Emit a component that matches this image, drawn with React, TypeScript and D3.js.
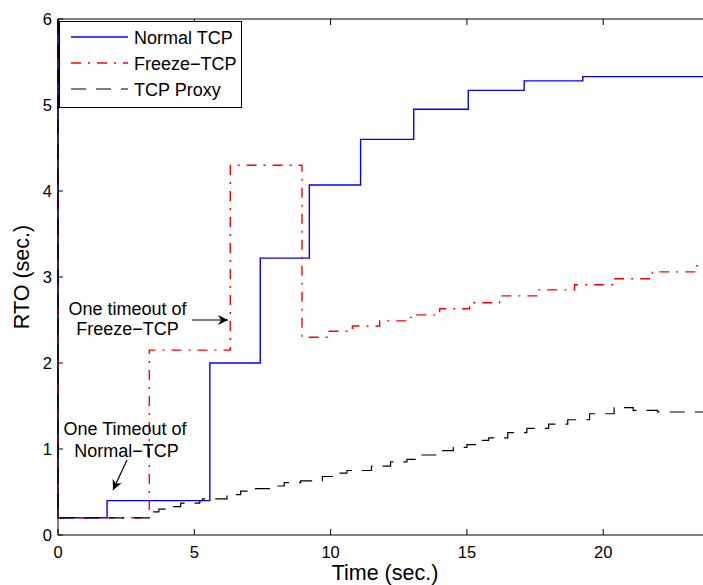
import React from "react";
import * as d3 from "d3";

const xTicks = [0, 5, 10, 15, 20];
const yTicks = [0, 1, 2, 3, 4, 5, 6];

const normalTime = [0, 0, 1.8, 5.57, 7.42, 9.22, 11.1, 13.05, 15.05, 17.1, 19.25, 25];
const normalRto = [6, 0.2, 0.4, 2.0, 3.22, 4.07, 4.6, 4.95, 5.17, 5.28, 5.33, 5.33];

const freezeTime = [0, 0, 3.35, 6.32, 8.95, 9.9, 10.8, 11.8, 12.8, 13.1, 14.0, 15.1, 16.2, 17.6, 18.95, 20.4, 21.8, 23.4, 25];
const freezeRto = [6, 0.2, 2.15, 4.3, 2.3, 2.37, 2.43, 2.49, 2.53, 2.56, 2.63, 2.7, 2.78, 2.85, 2.91, 2.98, 3.06, 3.13, 3.13];

const proxyTime = [0, 0, 3.35, 3.7, 4.1, 4.5, 5.2, 5.3, 6.2, 6.7, 7.15, 7.8, 8.3, 8.9, 9.7, 10.2, 10.6, 11.5, 12.2, 12.8, 13.3, 13.9, 14.5, 15.0, 15.5, 15.8, 16.5, 17.2, 18.0, 18.7, 19.5, 20.4, 21.1, 22.0, 25];
const proxyRto = [6, 0.2, 0.27, 0.3, 0.33, 0.37, 0.4, 0.42, 0.47, 0.51, 0.54, 0.57, 0.61, 0.63, 0.68, 0.72, 0.75, 0.8, 0.85, 0.88, 0.93, 0.98, 1.02, 1.05, 1.1, 1.13, 1.19, 1.24, 1.29, 1.34, 1.41, 1.48, 1.45, 1.43, 1.43];

const seriesNames = ["Normal TCP", "Freeze\u2212TCP", "TCP Proxy"];

const FONT = "'Liberation Sans', Arial, Helvetica, sans-serif";

export default function App() {
  const W = 703, H = 585;
  const left = 58, right = 739.5, top = 19, bottom = 535;
  const x = d3.scaleLinear().domain([0, 25]).range([left, right]);
  const y = d3.scaleLinear().domain([0, 6]).range([bottom, top]);

  const mk = (t: number[], v: number[]) =>
    d3.line<number>().x((_, i) => x(t[i])).y((d) => y(d)).curve(d3.curveStepAfter)(v) || "";

  const series = [
    { d: mk(normalTime, normalRto), color: "#0000ff", dash: "", w: 1.4 },
    { d: mk(freezeTime, freezeRto), color: "#ff0000", dash: "10,7,2,7", w: 1.4 },
    { d: mk(proxyTime, proxyRto), color: "#000000", dash: "15,10", w: 1.2 },
  ];

  const legendY = [37, 63, 89];

  return (
    <svg width={W} height={H} style={{ position: "fixed", left: 0, top: 0, background: "#fff" }} fontFamily={FONT}>
      <defs>
        <clipPath id="plotClip">
          <rect x={left - 1} y={top - 1} width={right - left + 2} height={bottom - top + 2} />
        </clipPath>
        <marker id="arrowHead" viewBox="0 0 10 10" refX="10" refY="5" markerWidth="14" markerHeight="10" markerUnits="userSpaceOnUse" orient="auto">
          <path d="M0,0 L10,5 L0,10 L3,5 Z" fill="#000" />
        </marker>
      </defs>
      <rect x={0} y={0} width={W} height={H} fill="#fff" />
      <g clipPath="url(#plotClip)">
        {series.map((s, i) => (
          <path key={i} d={s.d} fill="none" stroke={s.color} strokeWidth={s.w} strokeDasharray={s.dash || undefined} />
        ))}
      </g>
      <line x1={left} x2={right} y1={bottom} y2={bottom} stroke="#000" strokeWidth={1} />
      <line x1={left} x2={right} y1={top} y2={top} stroke="#000" strokeWidth={1} />
      <line x1={left} x2={left} y1={top} y2={bottom} stroke="#000" strokeWidth={1} />
      {xTicks.map((t) => (
        <g key={"x" + t}>
          <line x1={x(t)} x2={x(t)} y1={bottom} y2={bottom - 6} stroke="#000" />
          <line x1={x(t)} x2={x(t)} y1={top} y2={top + 6} stroke="#000" />
          <text x={x(t)} y={558} fontSize={16.5} textAnchor="middle" fill="#000">{t}</text>
        </g>
      ))}
      {yTicks.map((t) => (
        <g key={"y" + t}>
          <line x1={left} x2={left + 5} y1={y(t)} y2={y(t)} stroke="#000" />
          <text x={52} y={y(t) + 6} fontSize={16.5} textAnchor="end" fill="#000">{t}</text>
        </g>
      ))}
      <text x={385} y={580} fontSize={21.5} textAnchor="middle" fill="#000">Time (sec.)</text>
      <text transform={`translate(29,${277}) rotate(-90)`} fontSize={21.5} textAnchor="middle" fill="#000">RTO (sec.)</text>

      <rect x={59.5} y={21.5} width={182} height={86} fill="#fff" stroke="#000" strokeWidth={1} />
      {series.map((s, i) => (
        <g key={"lg" + i}>
          <line x1={71} x2={128} y1={legendY[i]} y2={legendY[i]} stroke={s.color} strokeWidth={s.w} strokeDasharray={s.dash || undefined} />
          <text x={134} y={legendY[i] + 7} fontSize={18} fill="#000">{seriesNames[i]}</text>
        </g>
      ))}

      <text x={127.5} y={315} fontSize={18} textAnchor="middle" fill="#000">One timeout of</text>
      <text x={127.5} y={335} fontSize={18} textAnchor="middle" fill="#000">Freeze{"\u2212"}TCP</text>
      <line x1={192} y1={320} x2={228} y2={320} stroke="#000" strokeWidth={1.2} markerEnd="url(#arrowHead)" />

      <text x={125} y={435} fontSize={18} textAnchor="middle" fill="#000">One Timeout of</text>
      <text x={126.5} y={457} fontSize={18} textAnchor="middle" fill="#000">Normal{"\u2212"}TCP</text>
      <line x1={127} y1={460} x2={113} y2={490} stroke="#000" strokeWidth={1.2} markerEnd="url(#arrowHead)" />
    </svg>
  );
}
